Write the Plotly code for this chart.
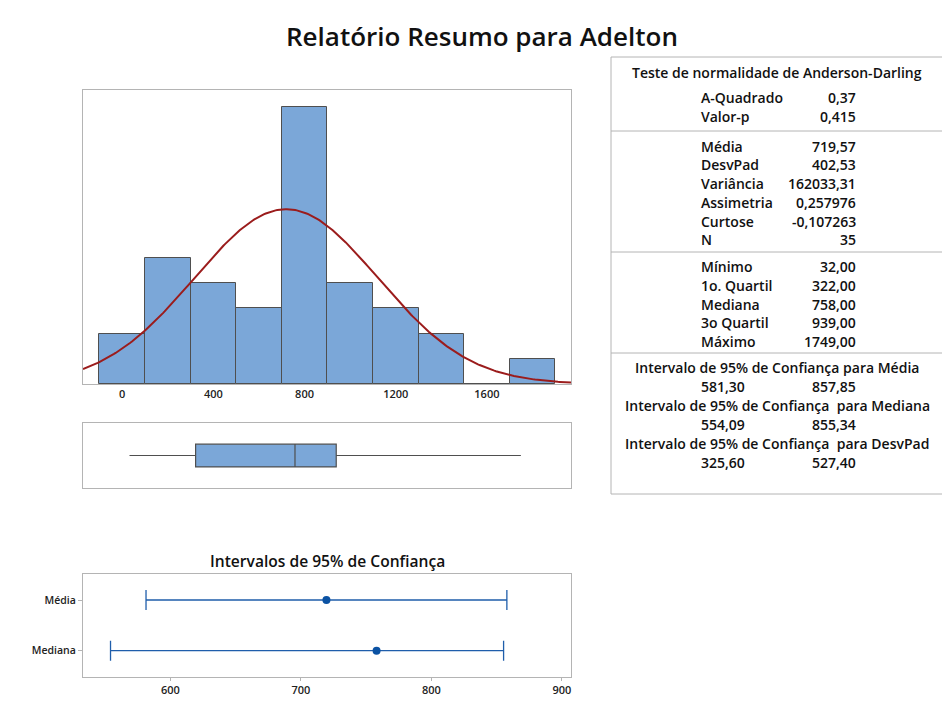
import numpy as np
import plotly.graph_objects as go

W, H = 942, 712

# ---------------- data ----------------
bin_centers = [0, 200, 400, 600, 800, 1000, 1200, 1400, 1600, 1800]
bin_counts = [2, 5, 4, 3, 11, 4, 3, 2, 0, 1]
bin_width = 200
hist_ticks = [0, 400, 800, 1200, 1600]

mean_val = 719.57
std_val = 402.53
n_obs = 35

box_min = 32.00
box_q1 = 322.00
box_median = 758.00
box_q3 = 939.00
box_max = 1749.00

ci_names = ["Média", "Mediana"]
ci_center = [719.57, 758.00]
ci_low = [581.30, 554.09]
ci_high = [857.85, 855.34]
ci_ticks = [600, 700, 800, 900]

ad_labels = ["A-Quadrado", "Valor-p"]
ad_values = ["0,37", "0,415"]
desc_labels = ["Média", "DesvPad", "Variância", "Assimetria", "Curtose", "N"]
desc_values = ["719,57", "402,53", "162033,31", "0,257976", "-0,107263", "35"]
quart_labels = ["Mínimo", "1o. Quartil", "Mediana", "3o Quartil", "Máximo"]
quart_values = ["32,00", "322,00", "758,00", "939,00", "1749,00"]
ci_headers = ["Intervalo de 95% de Confiança para Média",
              "Intervalo de 95% de Confiança  para Mediana",
              "Intervalo de 95% de Confiança  para DesvPad"]
ci_table_low = ["581,30", "554,09", "325,60"]
ci_table_high = ["857,85", "855,34", "527,40"]

# ---------------- helpers ----------------
def px(x):
    return x / W

def py(y):
    return 1 - y / H

FONT = "Open Sans"
BAR = "#7BA7D8"
EDGE = "#4f4f4f"
FRAME = "#b4b4b4"
RED = "#9b1c1c"
BLUE = "#1f5eab"

x_range = [-172, 1969]

fig = go.Figure()

# histogram
fig.add_trace(go.Bar(x=bin_centers, y=bin_counts, width=bin_width,
                     marker=dict(color=BAR, line=dict(color=EDGE, width=1)),
                     xaxis="x", yaxis="y", showlegend=False, hoverinfo="skip"))

# fitted normal curve from the reported mean and standard deviation
xc = np.linspace(x_range[0], x_range[1], 300)
yc = n_obs * bin_width * np.exp(-0.5 * ((xc - mean_val) / std_val) ** 2) / (std_val * np.sqrt(2 * np.pi))
fig.add_trace(go.Scatter(x=xc, y=yc, mode="lines", line=dict(color=RED, width=2),
                         xaxis="x", yaxis="y", showlegend=False, hoverinfo="skip"))

# boxplot
fig.add_trace(go.Box(y=[0], q1=[box_q1], median=[box_median], q3=[box_q3],
                     lowerfence=[box_min], upperfence=[box_max], orientation="h",
                     width=0.7, whiskerwidth=0, fillcolor=BAR,
                     line=dict(color=EDGE, width=1.2),
                     xaxis="x2", yaxis="y2", showlegend=False, hoverinfo="skip"))

# confidence intervals
fig.add_trace(go.Scatter(
    x=ci_center, y=[1, 0], mode="markers",
    marker=dict(color="#0b52a3", size=8),
    error_x=dict(type="data", symmetric=False,
                 array=[h - c for h, c in zip(ci_high, ci_center)],
                 arrayminus=[c - l for c, l in zip(ci_center, ci_low)],
                 color=BLUE, thickness=1.3, width=10),
    xaxis="x3", yaxis="y3", showlegend=False, hoverinfo="skip"))

tickfont = dict(family=FONT, size=11, color="#222", weight=600)

fig.update_layout(
    width=W, height=H, margin=dict(l=0, r=0, t=0, b=0),
    paper_bgcolor="white", plot_bgcolor="white",
    font=dict(family=FONT, color="#111"),
    bargap=0,
    xaxis=dict(domain=[px(83), px(571)], range=x_range, tickvals=hist_ticks,
               showgrid=False, zeroline=False, showline=True, mirror=True,
               linecolor=FRAME, linewidth=1, tickfont=tickfont, ticks=""),
    yaxis=dict(domain=[py(384), py(90)], range=[0, 11.67], showticklabels=False,
               showgrid=False, zeroline=False, showline=True, mirror=True,
               linecolor=FRAME, linewidth=1),
    xaxis2=dict(domain=[px(83), px(571)], range=x_range, showticklabels=False,
                showgrid=False, zeroline=False, showline=True, mirror=True,
                linecolor=FRAME, linewidth=1, anchor="y2"),
    yaxis2=dict(domain=[py(488), py(423)], range=[-1, 1], showticklabels=False,
                showgrid=False, zeroline=False, showline=True, mirror=True,
                linecolor=FRAME, linewidth=1, anchor="x2"),
    xaxis3=dict(domain=[px(83), px(571)], range=[533, 907], tickvals=ci_ticks,
                showgrid=False, zeroline=False, showline=True, mirror=True,
                linecolor=FRAME, linewidth=1, anchor="y3", tickfont=tickfont,
                ticks="outside", ticklen=3, tickcolor=FRAME),
    yaxis3=dict(domain=[py(676.7), py(574)], range=[-0.513, 1.513], tickvals=[1, 0],
                ticktext=ci_names, showgrid=False, zeroline=False, showline=True,
                mirror=True, linecolor=FRAME, linewidth=1, anchor="x3",
                tickfont=dict(family=FONT, size=10.5, color="#222", weight=600),
                ticks="outside", ticklen=4, tickcolor=FRAME),
)

ann = []
ann.append(dict(text="Relatório Resumo para Adelton", x=px(482), y=py(36),
                font=dict(family=FONT, size=26, color="#111", weight=600)))
ann.append(dict(text="Intervalos de 95% de Confiança", x=px(327), y=py(561),
                font=dict(family=FONT, size=15.6, color="#111", weight=600)))

tf = dict(family=FONT, size=14, color="#111", weight=600)
LX, VX, CX = 699, 858, 777
ann.append(dict(text="Teste de normalidade de Anderson-Darling", x=px(CX), y=py(73), font=tf))

def rows(labels, values, y0, step=18.8):
    for i, (l, v) in enumerate(zip(labels, values)):
        y = y0 + i * step
        ann.append(dict(text=l, x=px(LX), y=py(y), xanchor="left", font=tf))
        ann.append(dict(text=v, x=px(VX), y=py(y), xanchor="right", font=tf))

rows(ad_labels, ad_values, 98)
rows(desc_labels, desc_values, 146)
rows(quart_labels, quart_values, 266.5)

for i, (hdr, lo, hi) in enumerate(zip(ci_headers, ci_table_low, ci_table_high)):
    yh = 367 + i * 38
    ann.append(dict(text=hdr, x=px(CX), y=py(yh), font=tf))
    ann.append(dict(text=lo, x=px(LX), y=py(yh + 19.5), xanchor="left", font=tf))
    ann.append(dict(text=hi, x=px(VX), y=py(yh + 19.5), xanchor="right", font=tf))

for a in ann:
    a.setdefault("xanchor", "center")
    a.update(xref="paper", yref="paper", yanchor="middle", showarrow=False)
fig.update_layout(annotations=ann)

# table frame lines
shapes = []
def hline(y, x0=611, x1=942):
    shapes.append(dict(type="line", xref="paper", yref="paper", x0=px(x0), x1=px(x1),
                       y0=py(y), y1=py(y), line=dict(color=FRAME, width=1)))
hline(57)
hline(131)
hline(252)
hline(353)
hline(494)
shapes.append(dict(type="line", xref="paper", yref="paper", x0=px(611), x1=px(611),
                   y0=py(57), y1=py(494), line=dict(color=FRAME, width=1)))
fig.update_layout(shapes=shapes)

fig.write_html("out.html", config={"displayModeBar": False},
               post_script="document.body.style.margin='0px';document.body.style.overflow='hidden';")
